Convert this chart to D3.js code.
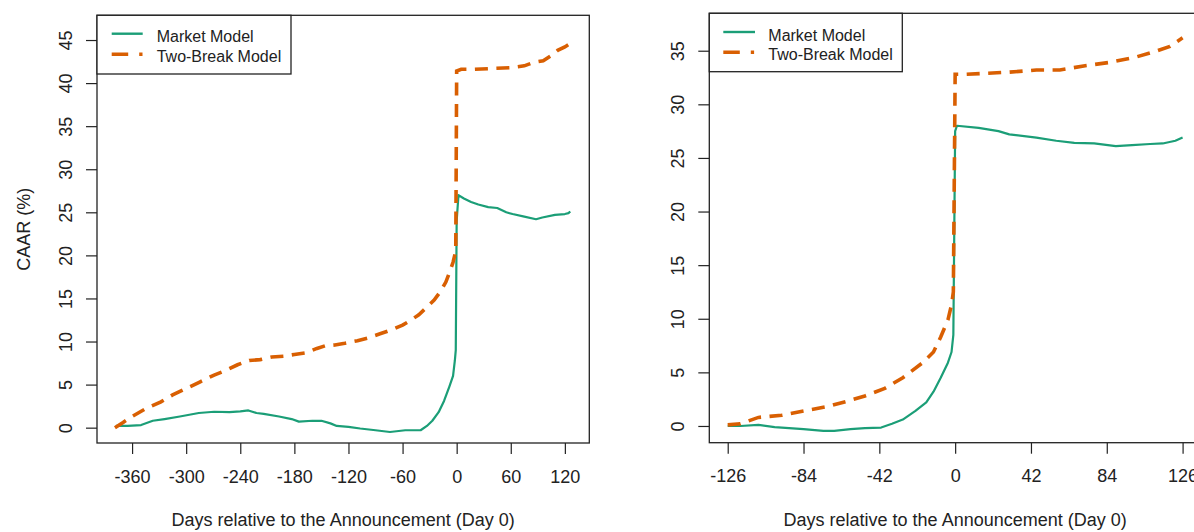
<!DOCTYPE html>
<html>
<head>
<meta charset="utf-8">
<script src="https://cdn.jsdelivr.net/npm/d3@7"></script>
<style>
  body { margin: 0; background: #fff; }
  svg { display: block; font-family: "Liberation Sans", Arial, sans-serif; }
</style>
</head>
<body>
<svg id="chart" width="1194" height="532"></svg>
<script>
// panel A: full event window
const leftMarketDays = [-378, -365, -350, -337, -324, -307, -286, -269, -252, -240, -231, -222, -214, -197, -183, -175, -160, -150, -140, -133, -120, -107, -90, -74, -57, -40, -33, -27, -20, -14, -8, -4, -2, -1, 0, 2, 8, 16, 24, 35, 45, 55, 62, 75, 88, 95, 109, 120, 124, 126];
const leftMarket = [0.2, 0.2, 0.3, 0.8, 1.0, 1.3, 1.7, 1.85, 1.8, 1.9, 2.0, 1.7, 1.6, 1.3, 1.0, 0.7, 0.8, 0.8, 0.5, 0.2, 0.1, -0.1, -0.3, -0.5, -0.3, -0.3, 0.2, 0.8, 1.8, 3.1, 4.8, 6.0, 7.8, 9.0, 24.0, 27.0, 26.6, 26.2, 25.9, 25.6, 25.5, 25.0, 24.8, 24.5, 24.2, 24.4, 24.7, 24.8, 24.9, 25.1];
const leftBreakDays = [-379, -370, -360, -345, -328, -315, -303, -285, -269, -255, -243, -230, -218, -205, -192, -180, -167, -155, -146, -135, -124, -110, -99, -85, -74, -60, -52, -42, -35, -25, -18, -12, -8, -4, -1, 0, 5, 20, 40, 62, 75, 85, 96, 105, 112, 120, 126];
const leftBreak = [0.0, 0.6, 1.3, 2.2, 3.0, 3.8, 4.4, 5.3, 6.1, 6.7, 7.3, 7.8, 7.9, 8.2, 8.3, 8.5, 8.7, 9.2, 9.5, 9.6, 9.8, 10.1, 10.4, 10.9, 11.3, 11.9, 12.4, 13.1, 13.8, 14.8, 15.8, 16.9, 18.0, 19.2, 20.5, 41.4, 41.6, 41.6, 41.7, 41.8, 42.0, 42.4, 42.6, 43.2, 43.8, 44.2, 44.6];
const leftXTicks = [-360, -300, -240, -180, -120, -60, 0, 60, 120];
const leftYTicks = [0, 5, 10, 15, 20, 25, 30, 35, 40, 45];

// panel B: +/- 126 days
const rightMarketDays = [-126, -119, -109, -100, -92, -84, -73, -67, -58, -50, -41, -35, -29, -22, -16, -12, -8, -4, -2, -1, 0, 1, 13, 24, 30, 45, 56, 66, 77, 89, 98, 108, 115, 122, 126];
const rightMarket = [0.0, 0.0, 0.1, -0.1, -0.2, -0.3, -0.45, -0.45, -0.3, -0.2, -0.15, 0.2, 0.6, 1.4, 2.2, 3.2, 4.5, 5.9, 6.9, 8.5, 27.5, 28.0, 27.8, 27.5, 27.2, 26.9, 26.6, 26.4, 26.35, 26.1, 26.2, 26.3, 26.35, 26.6, 26.9];
const rightBreakDays = [-126, -119, -109, -96, -84, -71, -60, -50, -39, -29, -18, -12, -8, -4, -2, -1, 0, 5, 18, 30, 45, 58, 72, 85, 100, 112, 119, 126];
const rightBreak = [0.1, 0.2, 0.8, 1.0, 1.4, 1.8, 2.3, 2.8, 3.5, 4.5, 5.9, 6.9, 8.3, 9.9, 11.3, 12.5, 32.8, 32.8, 32.9, 33.0, 33.2, 33.2, 33.6, 33.9, 34.4, 35.0, 35.4, 36.2];
const rightXTicks = [-126, -84, -42, 0, 42, 84, 126];
const rightYTicks = [0, 5, 10, 15, 20, 25, 30, 35];

const seriesNames = ["Market Model", "Two-Break Model"];
const green = "#1b9e77", orange = "#d95f02", ink = "#222";

const svg = d3.select("#chart");

function drawPanel(p) {
    const x = d3.scaleLinear().domain(p.xDomain).range([p.left, p.right]);
    const y = d3.scaleLinear().domain(p.yDomain).range([p.bottom, p.top]);
    const g = svg.append("g");

    // axes (R style: ticks outside, box drawn separately)
    const xAxis = g.append("g").attr("transform", `translate(0,${p.bottom})`)
        .call(d3.axisBottom(x).tickValues(p.xTicks).tickSize(11).tickPadding(16).tickFormat(d3.format("d")));
    xAxis.select(".domain").remove();
    xAxis.selectAll("line").attr("stroke", ink).attr("stroke-width", 1.2);
    xAxis.selectAll("text").attr("font-size", "18px").attr("fill", ink)
        .attr("dy", null).attr("y", 39.7).text(d => d < 0 ? "-" + Math.abs(d) : d);

    const yAxis = g.append("g").attr("transform", `translate(${p.left},0)`)
        .call(d3.axisLeft(y).tickValues(p.yTicks).tickSize(11).tickFormat(d3.format("d")));
    yAxis.select(".domain").remove();
    yAxis.selectAll("line").attr("stroke", ink).attr("stroke-width", 1.2);
    yAxis.selectAll("text").attr("font-size", "18px").attr("fill", ink)
        .attr("x", null).attr("dy", null).attr("text-anchor", "middle")
        .attr("transform", `translate(${p.yLabelX - p.left},0) rotate(-90)`);

    // plot box
    g.append("rect").attr("x", p.left).attr("y", p.top)
        .attr("width", p.right - p.left).attr("height", p.bottom - p.top)
        .attr("fill", "none").attr("stroke", ink).attr("stroke-width", 1.3);

    const line = d3.line().x(d => x(d[0])).y(d => y(d[1]));

    g.append("path").datum(d3.zip(p.marketDays, p.market))
        .attr("d", line).attr("fill", "none").attr("stroke", green)
        .attr("stroke-width", 2.2).attr("stroke-linejoin", "round");

    g.append("path").datum(d3.zip(p.breakDays, p.brk))
        .attr("d", line).attr("fill", "none").attr("stroke", orange)
        .attr("stroke-width", 3.6).attr("stroke-dasharray", "13,8.5");

    // legend
    const lg = p.legend;
    g.append("rect").attr("x", p.left).attr("y", p.top)
        .attr("width", lg.w).attr("height", lg.h)
        .attr("fill", "#fff").attr("stroke", ink).attr("stroke-width", 1.3);
    g.append("line").attr("x1", lg.x1).attr("x2", lg.x2).attr("y1", lg.y1).attr("y2", lg.y1)
        .attr("stroke", green).attr("stroke-width", 2.4);
    g.append("line").attr("x1", lg.x1).attr("x2", lg.x2).attr("y1", lg.y2).attr("y2", lg.y2)
        .attr("stroke", orange).attr("stroke-width", 3.6).attr("stroke-dasharray", "16.5,11,3.3,40");
    g.selectAll(".lgtext").data(seriesNames).join("text")
        .attr("x", lg.tx).attr("y", (d, i) => i === 0 ? lg.y1 + 8.6 : lg.y2 + 7.5)
        .attr("font-size", "16px").attr("fill", ink).text(d => d);

    // axis titles
    g.append("text").attr("text-anchor", "middle").attr("x", (p.left + p.right) / 2)
        .attr("y", 525.5).attr("font-size", "18px").attr("fill", ink)
        .text("Days relative to the Announcement (Day 0)");
    if (p.yTitle) {
        g.append("text").attr("text-anchor", "middle")
            .attr("transform", `translate(30,${(p.top + p.bottom) / 2}) rotate(-90)`)
            .attr("font-size", "18px").attr("fill", ink).text(p.yTitle);
    }
}

drawPanel({
    left: 97, right: 589.3, top: 15.3, bottom: 443,
    xDomain: [-398.9, 147.1], yDomain: [-1.78, 47.87],
    xTicks: leftXTicks, yTicks: leftYTicks, yLabelX: 71.7,
    marketDays: leftMarketDays, market: leftMarket,
    breakDays: leftBreakDays, brk: leftBreak,
    legend: { w: 194, h: 58.7, x1: 111.7, x2: 142.7, y1: 33.7, y2: 54.3, tx: 156.7 },
    yTitle: "CAAR (%)"
});

drawPanel({
    left: 709.3, right: 1201, top: 13.3, bottom: 442.7,
    xDomain: [-136.2, 136.2], yDomain: [-1.56, 38.49],
    xTicks: rightXTicks, yTicks: rightYTicks, yLabelX: 684.3,
    marketDays: rightMarketDays, market: rightMarket,
    breakDays: rightBreakDays, brk: rightBreak,
    legend: { w: 193, h: 58.4, x1: 723.3, x2: 755, y1: 32, y2: 52.3, tx: 768.3 },
    yTitle: null
});
</script>
</body>
</html>
